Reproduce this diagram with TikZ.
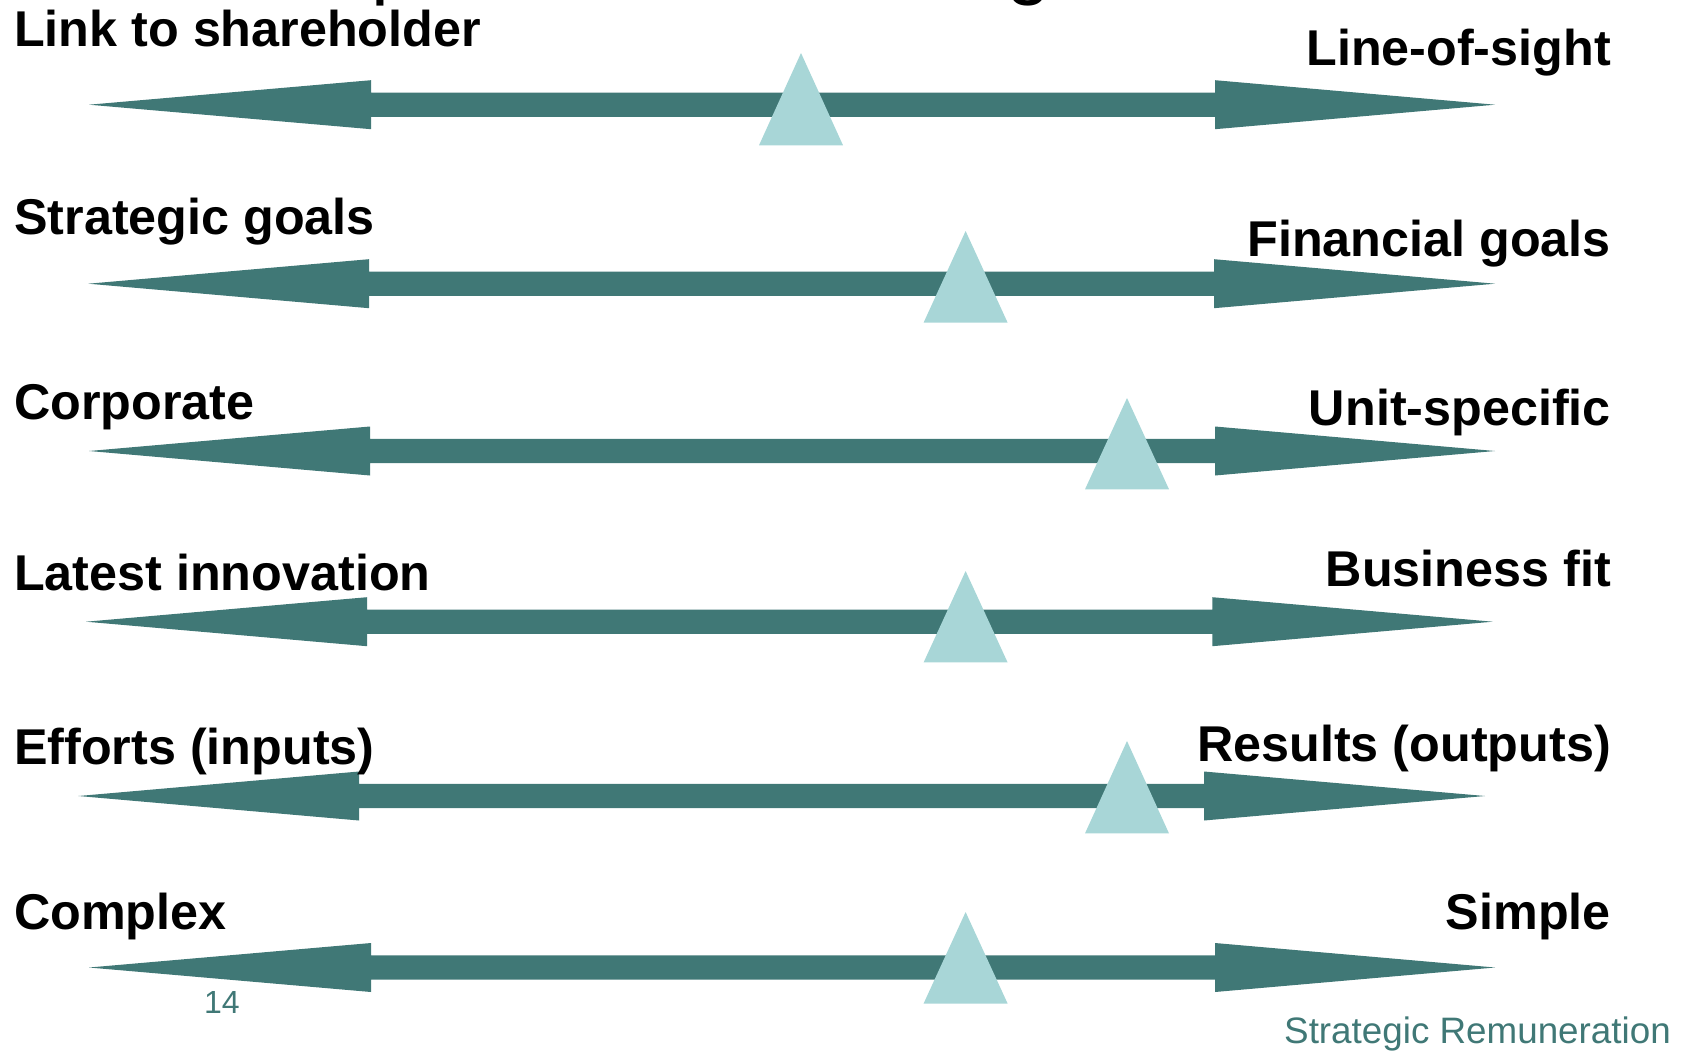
\documentclass[tikz,border=0pt]{standalone}
\usepackage{fontspec}
\setmainfont{Liberation Sans}
\definecolor{sliderteal}{RGB}{64,120,118}
\definecolor{pointerblue}{RGB}{168,214,215}

% double-headed slider bar: #1 centre y, #2 left tip x, #3 left head base x,
% #4 right head base x, #5 right tip x
\newcommand\drawslider[5]{%
  \fill[bar] (#2,#1) -- (#3,#1-24.5) -- (#3,#1-12.2) -- (#4,#1-12.2)
    -- (#4,#1-24.5) -- (#5,#1) -- (#4,#1+24.5) -- (#4,#1+12.2)
    -- (#3,#1+12.2) -- (#3,#1+24.5) -- cycle;}
% position marker: #1 centre x, #2 apex y, #3 base y
\newcommand\drawpointer[3]{%
  \fill[pointer] (#1,#2) -- (#1+42,#3) -- (#1-42,#3) -- cycle;}

\begin{document}
\begin{tikzpicture}[x=1pt,y=-1pt,
  endtext/.style={inner sep=0pt, font=\fontsize{50.3}{60}\selectfont\bfseries},
  lefttext/.style={endtext, anchor=base west},
  righttext/.style={endtext, anchor=base east},
  bar/.style={fill=sliderteal},
  pointer/.style={fill=pointerblue},
  foot/.style={inner sep=0pt, text=sliderteal, anchor=base west}]
\useasboundingbox (0,0) rectangle (1686,1052);

% slide title, cut off by the top edge
\begin{scope}
  \clip (0,0) rectangle (1686,1052);
  \node[inner sep=0pt, anchor=base west, font=\fontsize{80}{90}\selectfont] (title) at (29,-10)
    {Incentive plan: the balancing act};
\end{scope}

% sliders with their markers
\drawslider{104.7}{89}{371}{1215}{1495}
\drawpointer{801}{53}{145.3}

\drawslider{283.7}{88.3}{369}{1214}{1495}
\drawpointer{965.6}{231}{322.6}

\drawslider{451}{89}{370}{1215}{1495}
\drawpointer{1127}{398}{489.3}

\drawslider{621.7}{86}{367}{1212.3}{1492.7}
\drawpointer{965.6}{571}{662.4}

\drawslider{796}{78.3}{359}{1204}{1485}
\drawpointer{1127}{741}{833.4}

\drawslider{967.5}{89}{371}{1215}{1495}
\drawpointer{965.6}{912}{1003.5}

% end labels
\node[lefttext]  (l1) at (14,46)    {Link to shareholder};
\node[righttext] (r1) at (1611,65.5) {Line-of-sight};
\node[lefttext]  (l2) at (14,234.3) {Strategic goals};
\node[righttext] (r2) at (1611,256) {Financial goals};
\node[lefttext]  (l3) at (14,419.3) {Corporate};
\node[righttext] (r3) at (1611,425) {Unit-specific};
\node[lefttext]  (l4) at (14,590.7) {Latest innovation};
\node[righttext] (r4) at (1611,586.7) {Business fit};
\node[lefttext]  (l5) at (14,764.3) {Efforts (inputs)};
\node[righttext] (r5) at (1611,761) {Results (outputs)};
\node[lefttext]  (l6) at (14,929.3) {Complex};
\node[righttext] (r6) at (1611,929.3) {Simple};

% footer
\node[foot, font=\fontsize{32}{36}\selectfont] (pagenum) at (204,1013) {14};
\node[foot, font=\fontsize{36.8}{42}\selectfont] (footer) at (1284,1043.3) {Strategic Remuneration};
\end{tikzpicture}
\end{document}
